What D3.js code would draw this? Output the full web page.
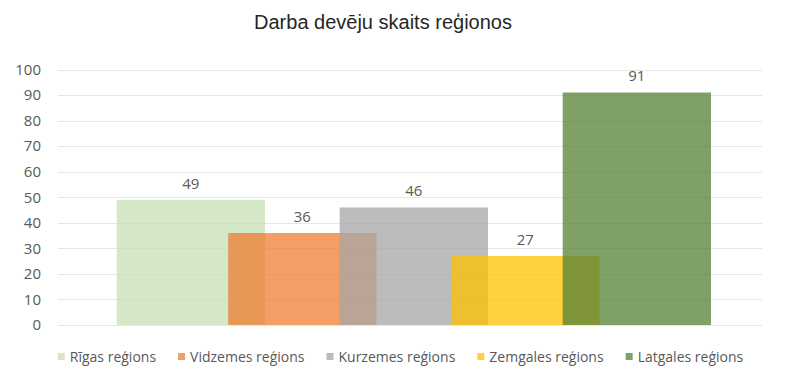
<!DOCTYPE html>
<html>
  <head>
    <meta charset="utf-8">
    <title>Darba devēju skaits reģionos</title>
    <style>
      body {
        margin: 0px;
        overflow: hidden;
        background: white;
      }

      .title {
        font-family: "Liberation Sans", Arial, sans-serif;
        font-size: 20px;
        fill: #262626;
      }

      .tick-label {
        font-family: "Open Sans", "Liberation Sans", sans-serif;
        font-size: 15px;
        fill: #595959;
      }

      .grid-line {
        stroke: #e6e6e6;
        stroke-width: 1px;
        shape-rendering: crispEdges;
      }

      .bar {
        fill-opacity: 0.75;
      }

      .value-label {
        font-family: "Open Sans", "Liberation Sans", sans-serif;
        font-size: 15px;
        fill: #595959;
      }

      .legend-text {
        font-family: "Open Sans", sans-serif;
        font-size: 14px;
        fill: #595959;
      }
    </style>
  </head>
  <body>
    <svg id="container" width="800" height="385"></svg>
    <script src="https://cdn.jsdelivr.net/npm/d3@7/dist/d3.min.js"></script>

    <script type="text/javascript">
      var regions = ['Rīgas reģions', 'Vidzemes reģions', 'Kurzemes reģions', 'Zemgales reģions', 'Latgales reģions'];
      var values = [49, 36, 46, 27, 91];
      var colors = ['#c5e0b4', '#ed7d31', '#a5a5a5', '#ffc000', '#548235'];
      var yTicks = [0, 10, 20, 30, 40, 50, 60, 70, 80, 90, 100];

      var width = 800,
        height = 385,
        container = d3.select('#container');

      var rows = regions.map(function (r, i) {
        return { name: r, value: values[i], color: colors[i] };
      });

      // one category, five series drawn with overlap
      var y = d3.scaleLinear().domain([0, 100]).range([325, 69.5]);
      var x = d3.scaleBand().domain(regions).range([116.7, 674.2]).padding(0);
      var barWidth = x.bandwidth() * 1.33;

      container.append('text')
        .attr('class', 'title')
        .attr('x', 383)
        .attr('y', 29)
        .attr('text-anchor', 'middle')
        .text('Darba devēju skaits reģionos');

      /*
        Grid and axis labels
      */
      container.append('g').selectAll('line')
        .data(yTicks)
        .join('line')
        .attr('class', 'grid-line')
        .attr('x1', 58)
        .attr('x2', 762)
        .attr('y1', function (d) { return Math.round(y(d)) + 0.5; })
        .attr('y2', function (d) { return Math.round(y(d)) + 0.5; });

      container.append('g').selectAll('text')
        .data(yTicks)
        .join('text')
        .attr('class', 'tick-label')
        .attr('x', 41)
        .attr('y', function (d) { return y(d); })
        .attr('dy', '0.35em')
        .attr('text-anchor', 'end')
        .text(function (d) { return d; });

      /*
        Bars
      */
      container.append('g').selectAll('rect')
        .data(rows)
        .join('rect')
        .attr('class', 'bar')
        .attr('x', function (d) { return x(d.name); })
        .attr('y', function (d) { return y(d.value); })
        .attr('width', barWidth)
        .attr('height', function (d) { return y(0) - y(d.value); })
        .attr('fill', function (d) { return d.color; });

      container.append('g').selectAll('text')
        .data(rows)
        .join('text')
        .attr('class', 'value-label')
        .attr('x', function (d) { return x(d.name) + barWidth / 2; })
        .attr('y', function (d) { return y(d.value) - 11; })
        .attr('text-anchor', 'middle')
        .text(function (d) { return d.value; });

      /*
        Legend
      */
      var legend = container.append('g');
      var items = legend.selectAll('g')
        .data(rows)
        .join('g');

      items.append('rect')
        .attr('width', 7)
        .attr('height', 7)
        .attr('y', -4)
        .attr('fill', function (d) { return d.color; })
        .attr('fill-opacity', 0.75);

      items.append('text')
        .attr('class', 'legend-text')
        .attr('x', 12)
        .attr('dy', '0.35em')
        .text(function (d) { return d.name; });

      var gap = 22;
      var offset = 0;
      items.each(function () {
        var w = d3.select(this).select('text').node().getComputedTextLength();
        d3.select(this).attr('transform', 'translate(' + offset + ',0)');
        offset += 12 + w + gap;
      });
      var total = offset - gap;
      legend.attr('transform', 'translate(' + (400.5 - total / 2) + ',357)');
    </script>
  </body>
</html>
